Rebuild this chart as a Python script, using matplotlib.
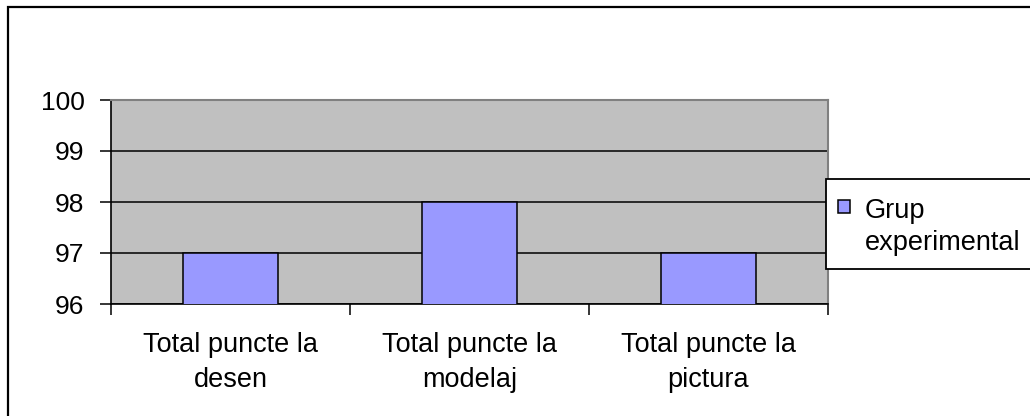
import matplotlib.pyplot as plt
from matplotlib.patches import Rectangle

plt.rcParams['font.family'] = ['Liberation Sans', 'DejaVu Sans']

categories = ['Total puncte la\ndesen', 'Total puncte la\nmodelaj', 'Total puncte la\npictura']
values = [97, 98, 97]
series_name = 'Grup\nexperimental'
yticks = [96, 97, 98, 99, 100]

fig = plt.figure(figsize=(10.3, 4.16), dpi=100)
ax = fig.add_axes([111 / 1030, 1 - 304 / 416, (828 - 111) / 1030, (304 - 100) / 416])

x = list(range(len(categories)))
bars = ax.bar(x, values, width=0.395, color='#9999FF', edgecolor='black', linewidth=1.1,
              label=series_name, zorder=3)

ax.set_facecolor('#C0C0C0')
ax.set_xlim(-0.5, len(categories) - 0.5)
ax.set_ylim(yticks[0], yticks[-1])
ax.set_yticks(yticks)
ax.yaxis.grid(True, color='black', linewidth=1.1)
ax.set_axisbelow(True)

# category labels in the middle, tick marks on the boundaries
ax.set_xticks([i - 0.5 for i in range(len(categories) + 1)])
ax.set_xticklabels([])
ax.set_xticks(x, minor=True)
ax.set_xticklabels(categories, minor=True, fontsize=19.5, linespacing=1.45)
ax.tick_params(axis='x', which='major', length=8, width=1.1, direction='out')
ax.tick_params(axis='x', which='minor', length=0, pad=20)
ax.tick_params(axis='y', length=8, width=1.1, labelsize=19, pad=11)

for s in ['left', 'bottom']:
    ax.spines[s].set_color('black')
    ax.spines[s].set_linewidth(1.2)
for s in ['top', 'right']:
    ax.spines[s].set_color('#808080')
    ax.spines[s].set_linewidth(1.5)

# outer chart frame
fig.patches.append(Rectangle((8 / 1030, -0.1), 1.2, 1.1 - 7 / 416, transform=fig.transFigure,
                             fill=False, edgecolor='black', linewidth=1.6))
# legend box (Excel style: swatch aligned with first line)
fig.patches.append(Rectangle((826 / 1030, 1 - 269 / 416), 0.3, 90 / 416, transform=fig.transFigure,
                             facecolor='white', edgecolor='black', linewidth=1.3, zorder=5))
fig.patches.append(Rectangle((838 / 1030, 1 - 213 / 416), 12 / 1030, 13 / 416, transform=fig.transFigure,
                             facecolor=bars[0].get_facecolor(), edgecolor='black', linewidth=1.1, zorder=6))
fig.text(865 / 1030, 1 - 227 / 416, series_name, fontsize=19.5, va='center', ha='left',
         linespacing=1.3, zorder=6)

plt.savefig('out.png', dpi=100)
